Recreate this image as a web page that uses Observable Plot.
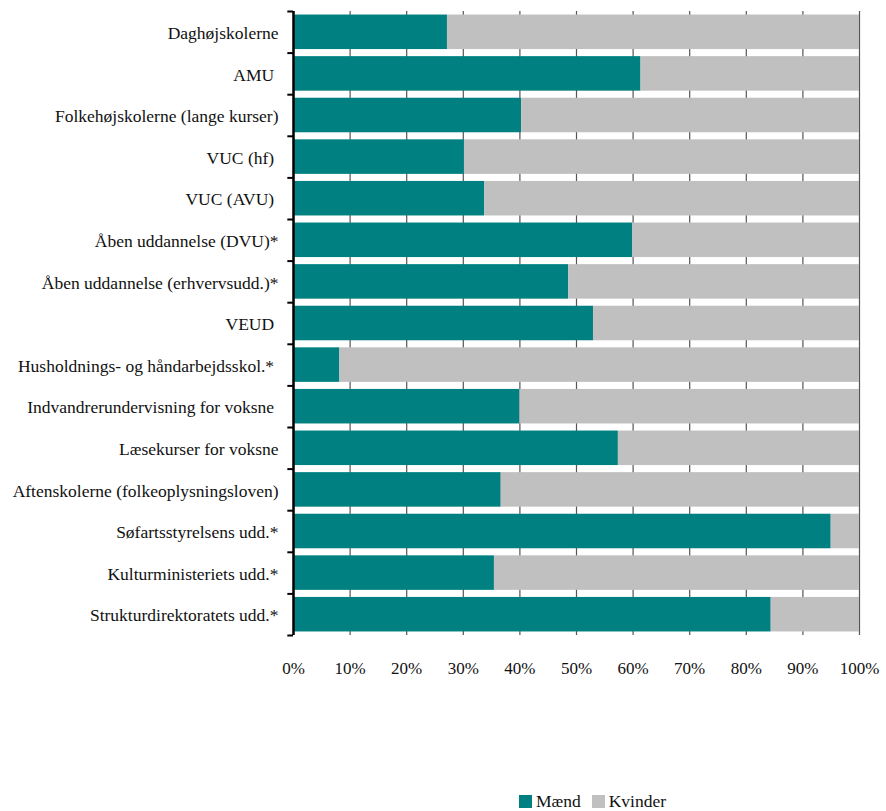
<!DOCTYPE html>
<html>
<head>
<meta charset="utf-8">
<script src="https://cdn.jsdelivr.net/npm/d3@7"></script>
<script src="https://cdn.jsdelivr.net/npm/@observablehq/plot@0.6"></script>
<style>
  html, body { margin: 0; padding: 0; background: #fff; }
  body { width: 886px; font-family: "Liberation Serif", "DejaVu Serif", serif; }
  #chart svg { display: block; }
  #chart svg text { white-space: pre; }
  #legend { position: relative; height: 120px; }
  #legend .items { position: absolute; left: 519px; top: 100px; display: flex; align-items: center; gap: 11px; font-size: 17.5px; color: #111; }
  #legend .it { display: flex; align-items: center; gap: 4px; }
  #legend .sw { width: 13px; height: 13px; display: inline-block; }
</style>
</head>
<body>
<div id="chart"></div>
<div id="legend"></div>
<script>
const categories = [
  "Daghøjskolerne",
  "AMU ",
  "Folkehøjskolerne (lange kurser)",
  "VUC (hf) ",
  "VUC (AVU) ",
  "Åben uddannelse (DVU)*",
  "Åben uddannelse (erhvervsudd.)*",
  "VEUD ",
  "Husholdnings- og håndarbejdsskol.* ",
  "Indvandrerundervisning for voksne ",
  "Læsekurser for voksne",
  "Aftenskolerne (folkeoplysningsloven)",
  "Søfartsstyrelsens udd.*",
  "Kulturministeriets udd.*",
  "Strukturdirektoratets udd.*"
];
const maend = [27.2, 61.4, 40.3, 30.2, 33.8, 59.9, 48.6, 53.0, 8.2, 40.0, 57.4, 36.7, 95.0, 35.5, 84.4];
const kvinder = maend.map(v => 100 - v);
const seriesNames = ["Mænd", "Kvinder"];
const seriesColors = ["#008080", "#c0c0c0"];
const xTicks = [0, 10, 20, 30, 40, 50, 60, 70, 80, 90, 100];

const rows = [];
categories.forEach((c, i) => {
  rows.push({cat: c, serie: seriesNames[0], value: maend[i]});
  rows.push({cat: c, serie: seriesNames[1], value: kvinder[i]});
});

const marginTop = 11, height = 691, marginBottom = 56;
const step = (height - marginTop - marginBottom) / categories.length;

const chart = Plot.plot({
  width: 886,
  height,
  marginLeft: 293,
  marginRight: 27,
  marginTop,
  marginBottom,
  style: {fontFamily: "'Liberation Serif', 'DejaVu Serif', serif", fontSize: "17.5px", color: "#111", background: "#fff"},
  x: {domain: [0, 100], ticks: xTicks, tickFormat: d => d + "%", tickSize: 0, tickPadding: 26, label: null},
  y: {domain: categories, round: false, range: [marginTop, height - marginBottom], paddingInner: 0.17, paddingOuter: 0.085, tickSize: 0, tickPadding: 15, label: null},
  color: {domain: seriesNames, range: seriesColors},
  marks: [
    Plot.gridX(xTicks, {stroke: "#555", strokeOpacity: 1, strokeWidth: 1.2}),
    Plot.barX(rows, Plot.stackX({y: "cat", x: "value", fill: "serie", order: seriesNames})),
    Plot.ruleX([0], {stroke: "#000", strokeWidth: 2.5}),
    Plot.ruleY(categories, {y: d => d, x1: -1, x2: 0, dy: -step / 2, stroke: "#000", strokeWidth: 2}),
    Plot.ruleY(categories.slice(-1), {y: d => d, x1: -1, x2: 0, dy: step / 2, stroke: "#000", strokeWidth: 2}),
    Plot.axisX({ticks: xTicks, tickFormat: d => d + "%", tickSize: 0, tickPadding: 26, fontSize: 17}),
    Plot.axisY({tickSize: 0, tickPadding: 15, fontSize: 17.5, dy: 1})
  ]
});
document.getElementById("chart").appendChild(chart);

const items = document.createElement("div");
items.className = "items";
seriesNames.forEach((s, i) => {
  const it = document.createElement("span");
  it.className = "it";
  const sw = document.createElement("span");
  sw.className = "sw";
  sw.style.background = seriesColors[i];
  const t = document.createElement("span");
  t.textContent = s;
  it.appendChild(sw);
  it.appendChild(t);
  items.appendChild(it);
});
document.getElementById("legend").appendChild(items);
</script>
</body>
</html>
